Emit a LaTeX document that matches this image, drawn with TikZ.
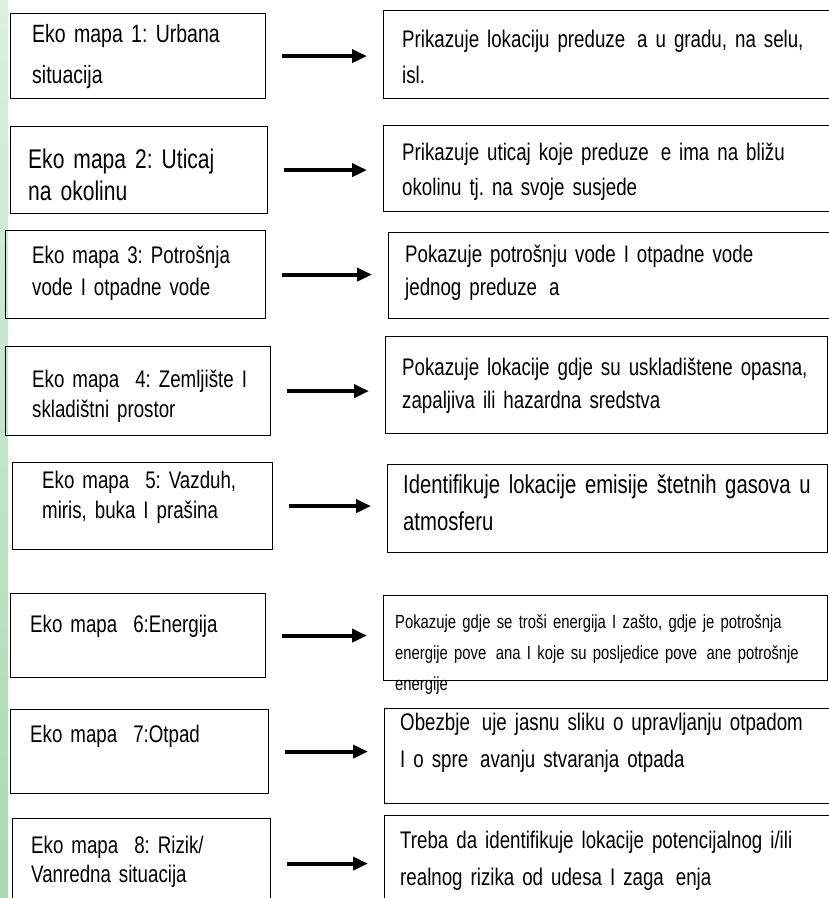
\documentclass[tikz,border=0pt]{standalone}
\usepackage{fontspec}
\setmainfont{Liberation Sans}[FakeStretch=0.78,WordSpace=0.75]
\usetikzlibrary{arrows.meta}
\definecolor{striptop}{HTML}{DCEFE0}
\definecolor{stripbot}{HTML}{A9D9B2}
\newcommand{\miss}{\hspace{0.5em}}
\frenchspacing

\begin{document}
\begin{tikzpicture}[x=1pt,y=-1pt,
  mapbox/.style={draw=black,line width=1.2pt,anchor=north west,inner sep=0pt},
  maptext/.style={anchor=base west,align=left,inner sep=0pt,text width=470pt,
    font=\fontsize{24}{32}\selectfont},
  linegap/.style={font=\fontsize{24}{#1}\selectfont},
  maparrow/.style={-{Triangle[length=15pt,width=13pt]},line width=4pt,
    shorten <=16pt,shorten >=16pt}]
\useasboundingbox (0,0) rectangle (829,898);
\shade[top color=striptop,bottom color=stripbot] (0,0) rectangle (8,898);

% left boxes
\node (l1) [mapbox,minimum width=255pt,minimum height=85pt] at (10,13) {};
\node (l2) [mapbox,minimum width=257pt,minimum height=87pt] at (10,126) {};
\node (l3) [mapbox,minimum width=260pt,minimum height=88pt] at (5,230) {};
\node (l4) [mapbox,minimum width=265pt,minimum height=89pt] at (5,346) {};
\node (l5) [mapbox,minimum width=260pt,minimum height=87pt] at (12,462) {};
\node (l6) [mapbox,minimum width=255pt,minimum height=84pt] at (10,593) {};
\node (l7) [mapbox,minimum width=258pt,minimum height=84pt] at (10,709) {};
\node (l8) [mapbox,minimum width=258pt,minimum height=90pt] at (12,818) {};

% right boxes
\node (r1) [mapbox,minimum width=452pt,minimum height=88pt] at (383,10) {};
\node (r2) [mapbox,minimum width=452pt,minimum height=86pt] at (383,125) {};
\node (r3) [mapbox,minimum width=447pt,minimum height=86pt] at (388,232) {};
\node (r4) [mapbox,minimum width=442pt,minimum height=97pt] at (385,336) {};
\node (r5) [mapbox,minimum width=440pt,minimum height=88pt] at (387,464) {};
\node (r6) [mapbox,minimum width=444pt,minimum height=85pt] at (383,595) {};
\node (r7) [mapbox,minimum width=451pt,minimum height=95pt] at (384,708) {};
\node (r8) [mapbox,minimum width=451pt,minimum height=95pt] at (384,815) {};

% texts
\node (l1t) [maptext,font=\fontsize{25}{41}\selectfont] at (32,42) {Eko mapa 1: Urbana\\situacija};
\node (l2t) [maptext,font=\fontsize{27}{32}\selectfont] at (28,168) {Eko mapa 2: Uticaj\\na okolinu};
\node (l3t) [maptext] at (32,263) {Eko mapa 3: Potrošnja\\vode I otpadne vode};
\node (l4t) [maptext,linegap=30] at (32,387) {Eko mapa\ \ 4: Zemljište I\\skladištni prostor};
\node (l5t) [maptext,linegap=30] at (42,488) {Eko mapa\ \ 5: Vazduh,\\miris, buka I prašina};
\node (l6t) [maptext] at (30,632) {Eko mapa\ \ 6:Energija};
\node (l7t) [maptext] at (30,742) {Eko mapa\ \ 7:Otpad};
\node (l8t) [maptext,linegap=29] at (31,853) {Eko mapa\ \ 8: Rizik/\\Vanredna situacija};

\node (r1t) [maptext,linegap=36] at (402,47) {Prikazuje lokaciju preduze\miss a u gradu, na selu,\\isl.};
\node (r2t) [maptext,linegap=35] at (402,160) {Prikazuje uticaj koje preduze\miss e ima na bližu\\okolinu tj. na svoje susjede};
\node (r3t) [maptext,linegap=33] at (405,262) {Pokazuje potrošnju vode I otpadne vode\\jednog preduze\miss a};
\node (r4t) [maptext,linegap=33] at (402,375) {Pokazuje lokacije gdje su uskladištene opasna,\\zapaljiva ili hazardna sredstva};
\node (r5t) [maptext,font=\fontsize{26}{37}\selectfont] at (403,493) {Identifikuje lokacije emisije štetnih gasova u\\atmosferu};
\node (r6t) [maptext,font=\fontsize{19}{31}\selectfont] at (395,628) {Pokazuje gdje se troši energija I zašto, gdje je potrošnja\\energije pove\miss ana I koje su posljedice pove\miss ane potrošnje\\energije};
\node (r7t) [maptext,linegap=37] at (400,730) {Obezbje\miss uje jasnu sliku o upravljanju otpadom\\I o spre\miss avanju stvaranja otpada};
\node (r8t) [maptext,linegap=37] at (400,848) {Treba da identifikuje lokacije potencijalnog i/ili\\realnog rizika od udesa I zaga\miss enja};

% arrows
\foreach \i in {1,...,8}
  \draw [maparrow] (l\i.east) -- (l\i.east -| r\i.west);
\end{tikzpicture}
\end{document}
